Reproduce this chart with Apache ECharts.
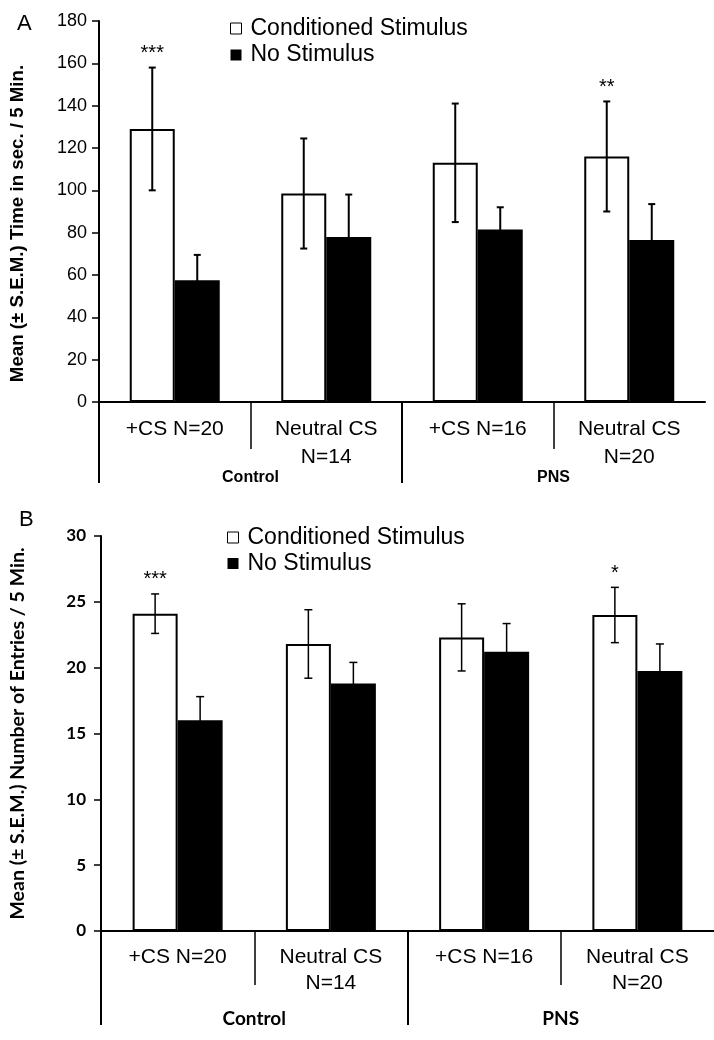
<!DOCTYPE html>
<html><head><meta charset="utf-8">
<script src="https://cdn.jsdelivr.net/npm/echarts@6/dist/echarts.min.js"></script>
<style>html,body{margin:0;padding:0;background:#fff}#c{width:714px;height:1040px}</style>
</head><body><div id="c"></div><script>
// ---- data ----
const categories = ['+CS N=20', 'Neutral CS\nN=14', '+CS N=16', 'Neutral CS\nN=20'];
const groups = ['Control', 'PNS'];
const legendNames = ['Conditioned Stimulus', 'No Stimulus'];

const timeCS = [129, 98.5, 113, 116];
const timeCSErr = [29, 26, 28, 26];
const timeNS = [57.5, 78, 81.5, 76.5];
const timeNSErr = [12, 20, 10.5, 17];
const timeSig = ['***', '', '', '**'];

const entriesCS = [24.1, 21.8, 22.3, 24.0];
const entriesCSErr = [1.5, 2.6, 2.55, 2.1];
const entriesNS = [16.0, 18.8, 21.2, 19.75];
const entriesNSErr = [1.8, 1.6, 2.15, 2.05];
const entriesSig = ['***', '', '', '*'];

const timeTicks = { min: 0, max: 180, interval: 20 };
const entriesTicks = { min: 0, max: 30, interval: 5 };

// ---- styling ----
const HELV = '"Liberation Sans", Arial, Helvetica, sans-serif';
const CAL = 'Lato, "Open Sans", sans-serif';

function xAxes(gridIndex, o) {
  return [
    { type: 'category', gridIndex, data: categories, position: 'bottom',
      axisLine: { lineStyle: { color: '#000', width: 2 } }, axisTick: { show: false },
      axisLabel: { interval: 0, color: '#000', fontFamily: HELV, fontSize: 21, lineHeight: o.lh, margin: o.labelMargin } },
    { type: 'value', gridIndex, min: 0, max: 4, position: 'bottom',
      axisLine: { show: false }, splitLine: { show: false }, axisLabel: { show: false },
      axisTick: { show: true, customValues: [1, 3], length: o.shortLen, lineStyle: { color: '#000', width: 1.5 } } },
    { type: 'value', gridIndex, min: 0, max: 4, position: 'bottom',
      axisLine: { show: false }, splitLine: { show: false },
      axisTick: { show: true, customValues: [0, 2], length: o.longLen, lineStyle: { color: '#000', width: 2 } },
      axisLabel: { show: true, customValues: [1, 3], formatter: v => groups[Math.round((v - 1) / 2)],
        margin: o.groupMargin, color: '#000', fontWeight: 'bold', fontFamily: o.groupFont, fontSize: o.groupSize } }
  ];
}

function yAxis(gridIndex, t, o) {
  return { type: 'value', gridIndex, min: t.min, max: t.max, interval: t.interval,
    axisLine: { show: true, lineStyle: { color: '#000', width: 2 } },
    axisTick: { show: true, length: 7, lineStyle: { color: '#000', width: 1.5 } },
    splitLine: { show: false },
    axisLabel: { color: '#000', fontSize: o.tickSize, fontFamily: o.tickFont, fontWeight: o.tickWeight, margin: o.tickMargin },
    name: o.name, nameLocation: 'middle', nameGap: o.nameGap,
    nameTextStyle: { color: '#000', fontSize: o.nameSize, fontFamily: o.nameFont, fontWeight: 'bold', padding: o.namePad } };
}

function errSeries(vals, errs, sig, side, cfg) {
  return {
    type: 'custom', xAxisIndex: cfg.x, yAxisIndex: cfg.y, z: 5, silent: true,
    data: vals.map((v, i) => [i, v, errs[i]]),
    encode: { x: 0, y: 1 },
    renderItem: function (params, api) {
      const i = api.value(0), v = api.value(1), e = api.value(2);
      const t = api.coord([i, v + e]), b = api.coord([i, v - e]);
      const x = t[0] + side * cfg.barW / 2;
      const h = cfg.cap / 2;
      const st = { stroke: '#000', lineWidth: cfg.lw };
      const children = [
        { type: 'line', shape: { x1: x, y1: t[1], x2: x, y2: b[1] }, style: st },
        { type: 'line', shape: { x1: x - h, y1: t[1], x2: x + h, y2: t[1] }, style: st },
        { type: 'line', shape: { x1: x - h, y1: b[1], x2: x + h, y2: b[1] }, style: st }
      ];
      const s = sig[params.dataIndex];
      if (s) children.push({ type: 'text', style: { text: s, x: x, y: t[1] - cfg.starGap, align: 'center',
        verticalAlign: 'bottom', fontSize: cfg.starSize, fontFamily: HELV, fill: '#000' } });
      return { type: 'group', children };
    }
  };
}

function bars(x, y, cs, ns, bw) {
  return [
    { type: 'bar', name: legendNames[0], xAxisIndex: x, yAxisIndex: y, data: cs, barWidth: bw, barGap: '0%',
      itemStyle: { color: '#fff', borderColor: '#000', borderWidth: 2 } },
    { type: 'bar', name: legendNames[1], xAxisIndex: x, yAxisIndex: y, data: ns, barWidth: bw, barGap: '0%',
      itemStyle: { color: '#000', borderColor: '#000', borderWidth: 0 } }
  ];
}

function legend(left, top, gap) {
  return { left, top, orient: 'vertical', itemWidth: 11, itemHeight: 11, itemGap: gap, padding: 0,
    icon: 'rect', selectedMode: false,
    textStyle: { fontSize: 23, fontFamily: HELV, color: '#000', lineHeight: 23, padding: [0, 0, 0, 4] },
    data: [{ name: legendNames[0], itemStyle: { borderWidth: 1 } }, { name: legendNames[1] }] };
}

const option = {
  animation: false,
  backgroundColor: '#fff',
  title: [
    { text: 'A', left: 17, top: 13, padding: 0, textStyle: { fontSize: 22, fontWeight: 'normal', fontFamily: HELV, color: '#000' } },
    { text: 'B', left: 19, top: 509, padding: 0, textStyle: { fontSize: 22, fontWeight: 'normal', fontFamily: HELV, color: '#000' } }
  ],
  legend: [legend(230, 17, 3.5), legend(227, 526, 3)],
  grid: [
    { left: 97, top: 21, right: 9, bottom: 638 },
    { left: 100, top: 536, right: -6, bottom: 109 }
  ],
  xAxis: [
    ...xAxes(0, { lh: 28, labelMargin: 13, shortLen: 47, longLen: 81, groupMargin: 68, groupFont: HELV, groupSize: 16 }),
    ...xAxes(1, { lh: 26, labelMargin: 13, shortLen: 54, longLen: 94, groupMargin: 78, groupFont: CAL, groupSize: 19 })
  ],
  yAxis: [
    yAxis(0, timeTicks, { tickSize: 18, tickFont: HELV, tickWeight: 'normal', tickMargin: 12,
      name: 'Mean (± S.E.M.) Time in sec. / 5 Min.', nameGap: 72, nameSize: 18.7, nameFont: HELV, namePad: [0, 24, 0, 0] }),
    yAxis(1, entriesTicks, { tickSize: 17, tickFont: CAL, tickWeight: 'bold', tickMargin: 15,
      name: 'Mean (± S.E.M.) Number of Entries / 5 Min.', nameGap: 73, nameSize: 19.5, nameFont: CAL, namePad: [0, 0, 0, 0] })
  ],
  series: [
    ...bars(0, 0, timeCS, timeNS, 45),
    errSeries(timeCS, timeCSErr, timeSig, -1, { x: 0, y: 0, barW: 45, cap: 7, lw: 2, starGap: 4, starSize: 20 }),
    errSeries(timeNS, timeNSErr, ['', '', '', ''], 1, { x: 0, y: 0, barW: 45, cap: 7, lw: 2, starGap: 4, starSize: 20 }),
    ...bars(3, 1, entriesCS, entriesNS, 45),
    errSeries(entriesCS, entriesCSErr, entriesSig, -1, { x: 3, y: 1, barW: 45, cap: 8, lw: 1.5, starGap: 4, starSize: 20 }),
    errSeries(entriesNS, entriesNSErr, ['', '', '', ''], 1, { x: 3, y: 1, barW: 45, cap: 8, lw: 1.5, starGap: 4, starSize: 20 })
  ]
};

const chart = echarts.init(document.getElementById('c'), null, { renderer: 'canvas' });
chart.setOption(option);
</script></body></html>
